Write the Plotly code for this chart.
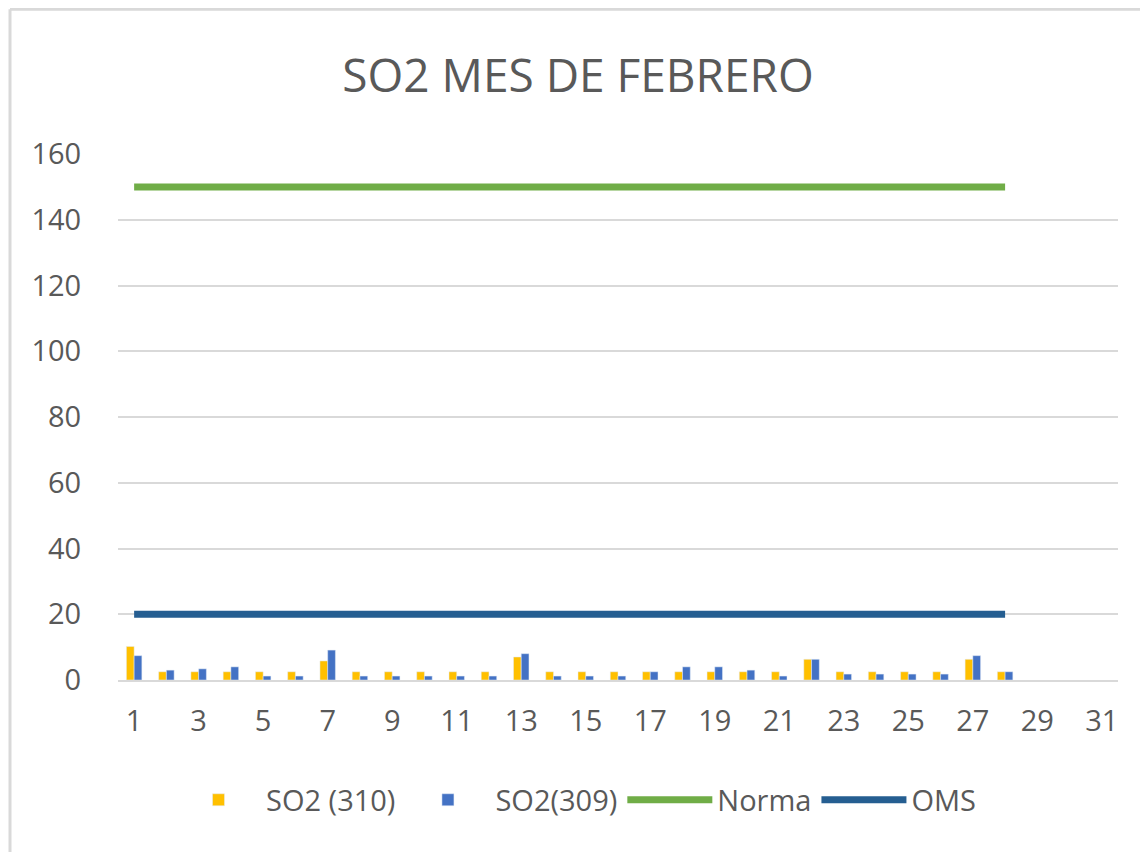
import plotly.graph_objects as go

days = list(range(1, 32))
so2_310 = [10.2, 2.5, 2.5, 2.5, 2.5, 2.5, 5.8, 2.5, 2.5, 2.5,
           2.5, 2.5, 7.0, 2.5, 2.5, 2.5, 2.5, 2.5, 2.5, 2.5,
           2.5, 6.3, 2.5, 2.5, 2.5, 2.5, 6.3, 2.5, None, None, None]
so2_309 = [7.4, 3.0, 3.4, 4.0, 1.2, 1.2, 9.1, 1.2, 1.2, 1.2,
           1.2, 1.2, 8.0, 1.2, 1.2, 1.2, 2.5, 4.0, 4.0, 3.0,
           1.2, 6.3, 1.8, 1.8, 1.8, 1.8, 7.4, 2.5, None, None, None]
norma = [150] * 28 + [None] * 3
oms = [20] * 28 + [None] * 3
x_ticks = list(range(1, 32, 2))

FONT = "Open Sans"
GREY = "#595959"
CLEAR = "rgba(0,0,0,0)"

fig = go.Figure()
fig.add_trace(go.Bar(x=days, y=so2_310, name="SO2 (310)", marker_color="#ffc000"))
fig.add_trace(go.Bar(x=days, y=so2_309, name="SO2(309)", marker_color="#4472c4"))
fig.add_trace(go.Scatter(x=days, y=norma, name="Norma", mode="lines",
                         line=dict(color="#70ad47", width=7)))
fig.add_trace(go.Scatter(x=days, y=oms, name="OMS", mode="lines",
                         line=dict(color="#255e91", width=7)))

# page body has an 8px margin; figure is sized/offset to compensate
W, H = 1140, 844
fig.update_layout(
    width=W, height=H,
    margin=dict(l=110, r=30, t=146, b=172),
    paper_bgcolor="white", plot_bgcolor="white",
    barmode="group", bargap=0.52, bargroupgap=0,
    title=dict(text="SO2 MES DE FEBRERO", x=0.5, xanchor="center",
               y=1 - 68 / H, yanchor="middle",
               font=dict(family=FONT, size=46, color=GREY)),
    font=dict(family=FONT, color=GREY),
    showlegend=True,
    legend=dict(orientation="h", x=0.458, xanchor="center", y=-0.228, yanchor="middle",
                font=dict(family=FONT, size=29, color=GREY), itemwidth=85,
                traceorder="normal"),
    xaxis=dict(range=[0.5, 31.5], tickmode="array", tickvals=x_ticks,
               ticktext=[str(v) for v in x_ticks], showgrid=False,
               showline=True, linecolor="#d9d9d9", linewidth=2,
               tickfont=dict(family=FONT, size=29, color=GREY),
               ticks="outside", ticklen=14, tickcolor=CLEAR),
    yaxis=dict(range=[0, 160], dtick=20, showgrid=True, gridcolor="#d9d9d9", gridwidth=2,
               zeroline=False, showline=False,
               ticks="outside", ticklen=30, tickcolor=CLEAR,
               tickfont=dict(family=FONT, size=29, color=GREY)),
    shapes=[
        dict(type="line", xref="paper", yref="paper", x0=-0.108, x1=-0.108,
             y0=-0.4, y1=1.275, line=dict(color="#d9d9d9", width=3)),
        dict(type="line", xref="paper", yref="paper", x0=-0.108, x1=1.04,
             y0=1.275, y1=1.275, line=dict(color="#d9d9d9", width=3)),
    ],
)

fig.write_html("out.html")
